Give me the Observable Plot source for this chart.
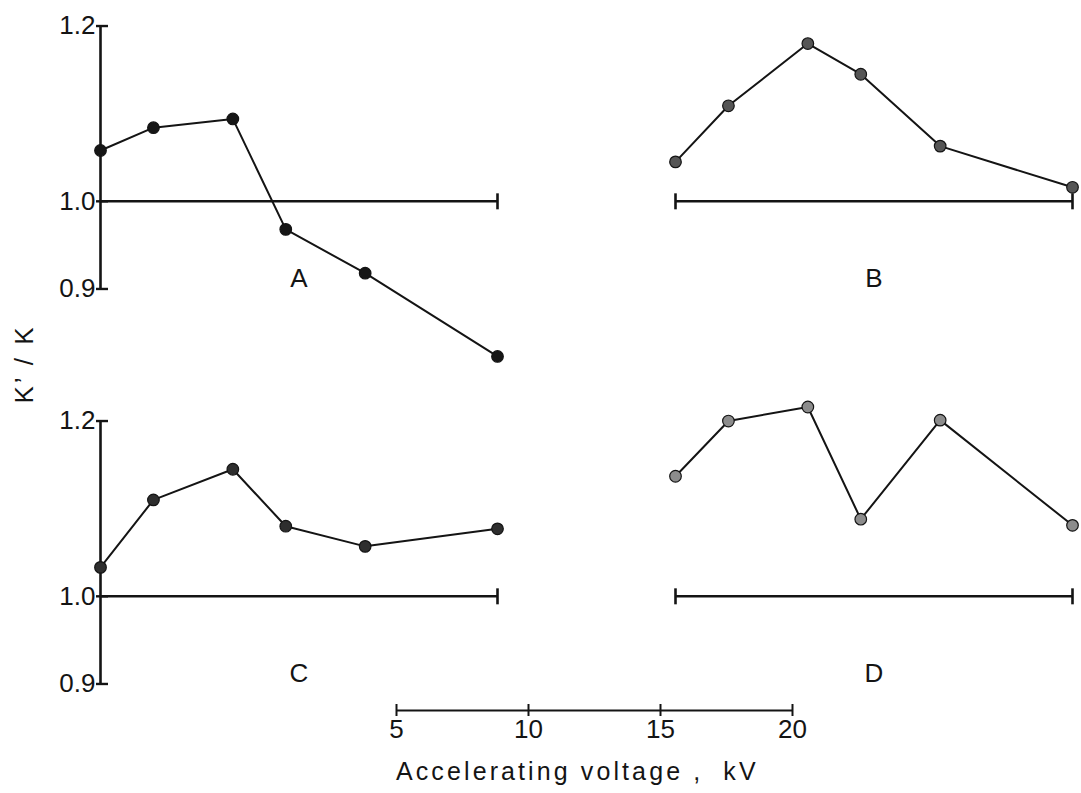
<!DOCTYPE html>
<html>
<head>
<meta charset="utf-8">
<script src="https://cdn.jsdelivr.net/npm/d3@7"></script>
<script src="https://cdn.jsdelivr.net/npm/@observablehq/plot@0.6"></script>
<style>
  html, body { margin: 0; padding: 0; background: #fff; }
  #figure { position: relative; width: 1081px; height: 793px; font-family: "Liberation Sans", Arial, sans-serif; color: #141414; }
  #figure svg { position: absolute; left: 0; }
  .ylabel { position: absolute; left: 24px; top: 364px; transform: translate(-50%, -50%) rotate(-90deg); font-size: 26px; line-height: 26px; letter-spacing: 3px; white-space: pre; }
  .xlabel { position: absolute; left: 396px; top: 759px; font-size: 25px; line-height: 25px; letter-spacing: 3.1px; white-space: pre; }
</style>
</head>
<body>
<div id="figure"></div>
<script>
// Four panels of K'/K against accelerating voltage
const panelNames = ["A", "B", "C", "D"];
const panelColumns = ["left", "right", "left", "right"];
const panelRows = ["top", "top", "bottom", "bottom"];
const voltages = [5, 7, 10, 12, 15, 20];
const ratioA = [1.058, 1.084, 1.094, 0.968, 0.918, 0.823];
const ratioB = [1.045, 1.109, 1.180, 1.145, 1.063, 1.016];
const ratioC = [1.033, 1.110, 1.145, 1.080, 1.057, 1.077];
const ratioD = [1.137, 1.200, 1.216, 1.088, 1.201, 1.081];
const yTicks = [0.9, 1.0, 1.2];
const barTicks = [5, 10, 15, 20];
const baseline = 1.0;
const yLabel = "K’ / K";
const xLabel = "Accelerating voltage ,  kV";

const series = [ratioA, ratioB, ratioC, ratioD];
const panels = panelNames.map((name, i) => ({name, col: panelColumns[i], row: panelRows[i]}));
const points = panels.flatMap((p, i) => voltages.map((kV, j) => ({...p, kV, ratio: series[i][j]})));
const xDomain = d3.extent(voltages);
const axisPanels = panels.filter(p => p.col === "left");
// short upright caps at the ends of each 1.0 reference line
const ends = panels.flatMap(p => (p.col === "left" ? [xDomain[1]] : xDomain).map(kV => ({...p, kV})));

const ink = "#141414";
const font = "Liberation Sans, Arial, sans-serif";
const endCap = {
  draw(context, size) {
    const r = Math.sqrt(size / Math.PI);
    context.moveTo(0, -r);
    context.lineTo(0, r);
  }
};

const main = Plot.plot({
  width: 1081,
  height: 702,
  marginLeft: 100,
  marginRight: 9,
  marginTop: 6.8,
  marginBottom: 0.7,
  style: {fontFamily: font, fontSize: "26px", color: ink, background: "transparent", overflow: "visible"},
  fx: {domain: ["left", "right"], paddingInner: 0.3096, paddingOuter: 0, axis: null},
  fy: {domain: ["top", "bottom"], paddingInner: 0.2462, paddingOuter: 0, axis: null},
  x: {domain: xDomain, axis: null},
  y: {domain: [0.88, 1.22], axis: null},
  color: {domain: panelNames, range: ["#161616", "#555555", "#2e2e2e", "#8c8c8c"]},
  marks: [
    Plot.ruleX(axisPanels, {fx: "col", fy: "row", x: () => xDomain[0], y1: () => d3.min(yTicks), y2: () => d3.max(yTicks), stroke: ink, strokeWidth: 2.6}),
    Plot.axisY({ticks: yTicks, tickSize: 12, dx: 8, tickFormat: () => "", stroke: ink, strokeWidth: 2.4, label: null}),
    Plot.axisY({ticks: yTicks, tickSize: 0, tickPadding: 5, tickFormat: d3.format(".1f"), fontSize: 26, fill: ink, label: null}),
    Plot.ruleY(panels, {fx: "col", fy: "row", y: () => baseline, x1: () => xDomain[0], x2: () => xDomain[1], stroke: ink, strokeWidth: 2.6}),
    Plot.dot(ends, {fx: "col", fy: "row", x: "kV", y: () => baseline, symbol: endCap, r: 8, stroke: ink, strokeWidth: 2.6}),
    Plot.line(points, {fx: "col", fy: "row", x: "kV", y: "ratio", z: "name", stroke: ink, strokeWidth: 2}),
    Plot.dot(points, {fx: "col", fy: "row", x: "kV", y: "ratio", r: 5.8, fill: "name", stroke: ink, strokeWidth: 1.2}),
    Plot.text(panels, {fx: "col", fy: "row", text: "name", x: () => 12.5, y: () => 0.912, fontSize: 26, fill: ink})
  ]
});

// voltage scale bar below the panels
const bar = Plot.plot({
  width: 1081,
  height: 44,
  marginLeft: 396,
  marginRight: 289,
  marginTop: 0,
  marginBottom: 36,
  style: {fontFamily: font, fontSize: "26px", color: ink, background: "transparent", overflow: "visible"},
  x: {domain: d3.extent(barTicks), axis: null},
  y: {domain: [0, 1], axis: null},
  marks: [
    Plot.ruleY([0], {x1: () => barTicks[0], x2: () => barTicks[barTicks.length - 1], stroke: ink, strokeWidth: 2.2}),
    Plot.axisX({ticks: barTicks, tickSize: 12, dy: -6, tickFormat: () => "", stroke: ink, strokeWidth: 2, label: null}),
    Plot.axisX({ticks: barTicks, tickSize: 0, tickPadding: 9, fontSize: 26, fill: ink, label: null})
  ]
});

const fig = document.getElementById("figure");
main.style.top = "0px";
bar.style.top = "702px";
fig.append(main, bar);

const yl = document.createElement("div");
yl.className = "ylabel";
yl.textContent = yLabel;
fig.append(yl);

const xl = document.createElement("div");
xl.className = "xlabel";
xl.textContent = xLabel;
fig.append(xl);
</script>
</body>
</html>
